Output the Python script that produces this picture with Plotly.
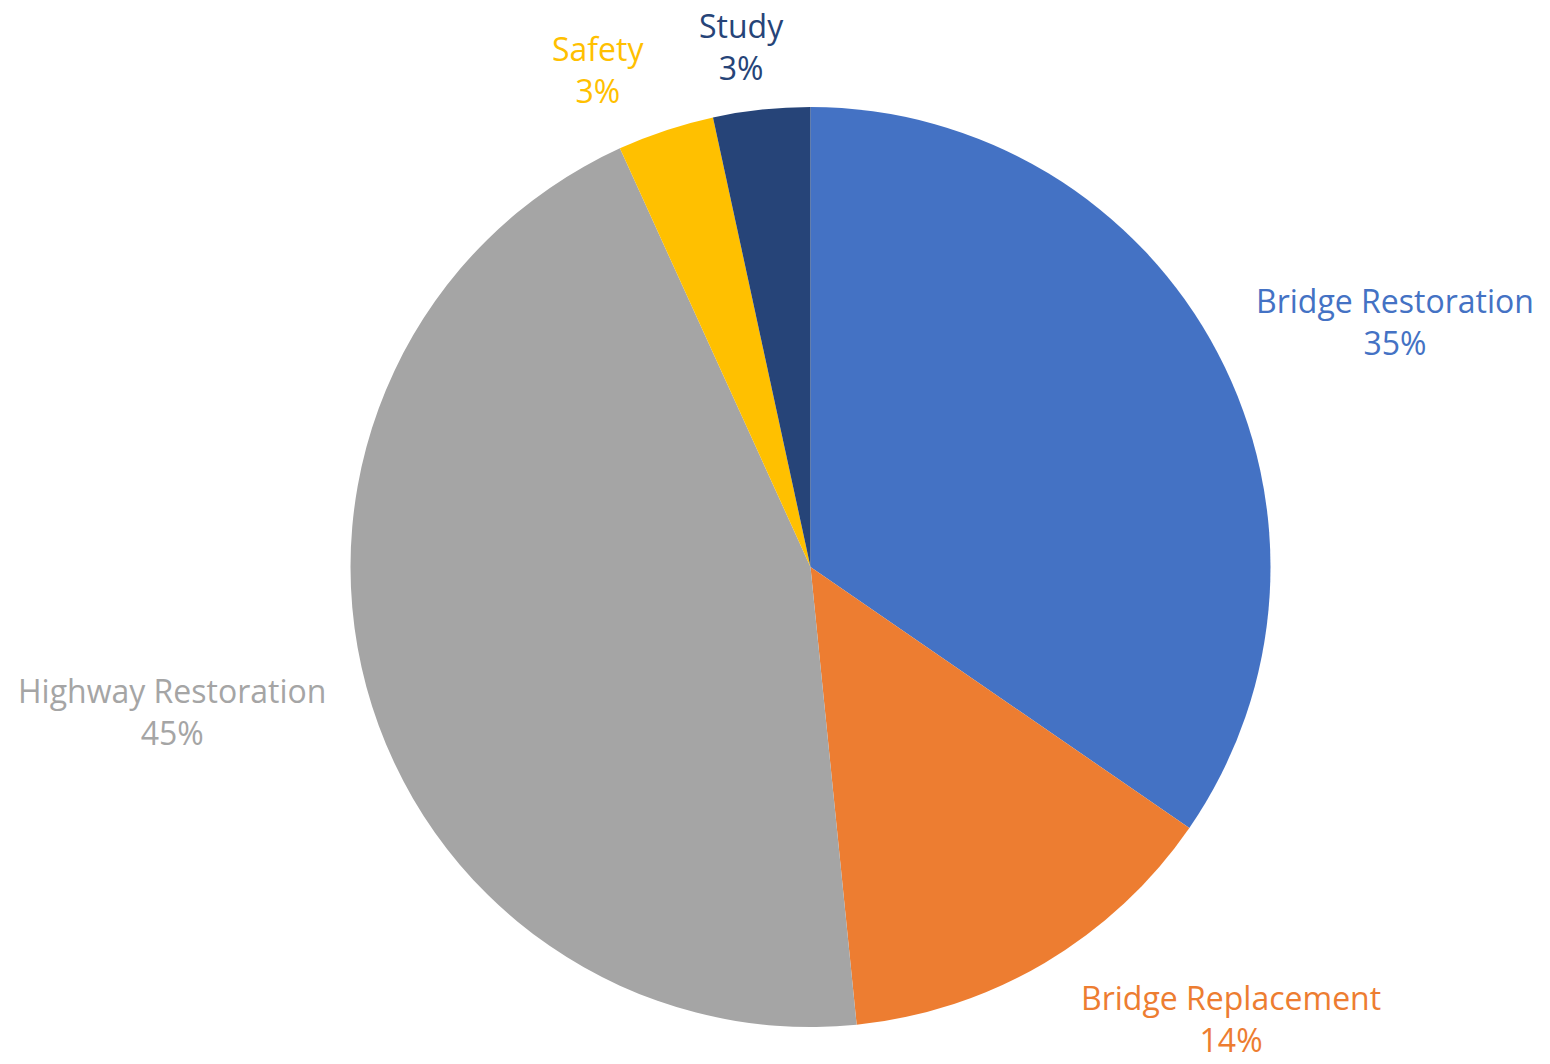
import plotly.graph_objects as go

categories = ["Bridge Restoration", "Bridge Replacement", "Highway Restoration", "Safety", "Study"]
values = [34.6, 13.8, 44.8, 3.4, 3.4]
colors = ["#4472C4", "#ED7D31", "#A5A5A5", "#FFC000", "#264478"]

W, H = 1550, 1064
# label centre positions in screen pixels (layout, not data)
label_px = [(1395, 321), (1231, 1018), (172, 711), (598, 69), (741, 46)]


def px_x(x):
    return x / W


def px_y(y):
    return 1 - y / H


total = sum(values)
fig = go.Figure(go.Pie(
    labels=categories,
    values=values,
    sort=False,
    direction="clockwise",
    rotation=0,
    marker=dict(colors=colors, line=dict(width=0)),
    textinfo="none",
    hoverinfo="label+percent",
    domain=dict(x=[px_x(350), px_x(1271)], y=[px_y(1027), px_y(107)]),
    showlegend=False,
))

for cat, val, col, (px, py) in zip(categories, values, colors, label_px):
    fig.add_annotation(
        x=px_x(px), y=px_y(py), xref="paper", yref="paper",
        text=f"{cat}<br>{round(100 * val / total)}%",
        showarrow=False, align="center",
        font=dict(family="Open Sans", size=32, color=col),
        xanchor="center", yanchor="middle", borderpad=0,
    )

fig.update_layout(
    width=W, height=H,
    margin=dict(l=0, r=0, t=0, b=0),
    paper_bgcolor="white", plot_bgcolor="white",
)

fig.write_html(
    "out.html",
    config={"displayModeBar": False},
    post_script="document.body.style.margin='0';document.body.style.overflow='hidden';",
)
